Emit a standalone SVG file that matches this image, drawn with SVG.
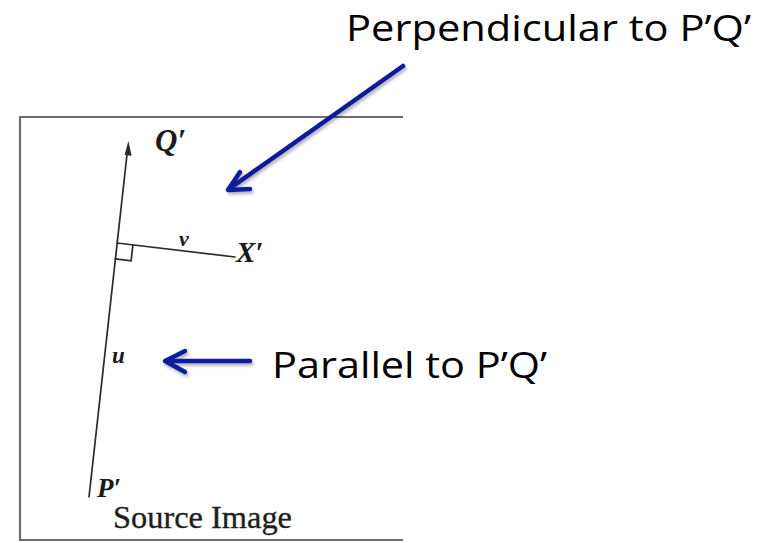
<svg xmlns="http://www.w3.org/2000/svg" width="762" height="543" viewBox="0 0 762 543">
<style>
.frame{fill:none;stroke:#6e6e6e;stroke-width:2.2}
.geo{fill:none;stroke:#2a2a2a;stroke-width:1.7;stroke-linecap:round}
.lbl{font-family:"Liberation Serif",serif;font-weight:bold;font-style:italic;fill:#1a1a1a}
.cap{font-family:"Liberation Serif",serif;fill:#1e1e1e;stroke:#1e1e1e;stroke-width:0.35}
.note{font-family:"Open Sans","Noto Sans",sans-serif;fill:#000}
.blue{fill:none;stroke:#0a1e9e;stroke-width:4.5;stroke-linecap:round;stroke-linejoin:round}
</style>
<defs>
<filter id="sh" x="-20%" y="-20%" width="140%" height="140%">
<feDropShadow dx="1.5" dy="2.5" stdDeviation="1.5" flood-color="#000" flood-opacity="0.3"/>
</filter>
</defs>
<rect width="762" height="543" fill="#fff"/>
<g id="source-image">
<path class="frame" d="M403,117 H20 V540 H403"/>
<text class="cap" x="113" y="528" font-size="31" textLength="179" lengthAdjust="spacingAndGlyphs">Source Image</text>
</g>
<g id="line-PQ">
<line class="geo" x1="89" y1="497" x2="127.5" y2="150"/>
<path d="M128.4,141 L124.6,155 L131.6,155.8 Z" fill="#2a2a2a"/>
<text class="lbl" x="155" y="151" font-size="31">Q′</text>
<text class="lbl" x="97" y="497" font-size="27">P′</text>
<text class="lbl" x="112" y="363" font-size="23">u</text>
<text class="lbl" x="179" y="246" font-size="22">v</text>
</g>
<g id="line-v">
<line class="geo" x1="117" y1="243" x2="235" y2="257"/>
<path class="geo" d="M132.9,244.9 L131.1,260.8 L115.2,258.9"/>
<text class="lbl" x="236" y="262" font-size="29">X′</text>
</g>
<g id="label-perpendicular">
<text class="note" x="346" y="41" font-size="37" textLength="405" lengthAdjust="spacingAndGlyphs">Perpendicular to P’Q’</text>
</g>
<g id="label-parallel">
<text class="note" x="272" y="378" font-size="37" textLength="275" lengthAdjust="spacingAndGlyphs">Parallel to P’Q’</text>
</g>
<g id="connectors" filter="url(#sh)">
<path class="blue" d="M403,66 L229,189"/>
<path class="blue" d="M240,172 L228,190 L250,189"/>
<path class="blue" d="M250,361 L166,361"/>
<path class="blue" d="M185,351 L165,361 L185,372"/>
</g>
</svg>
